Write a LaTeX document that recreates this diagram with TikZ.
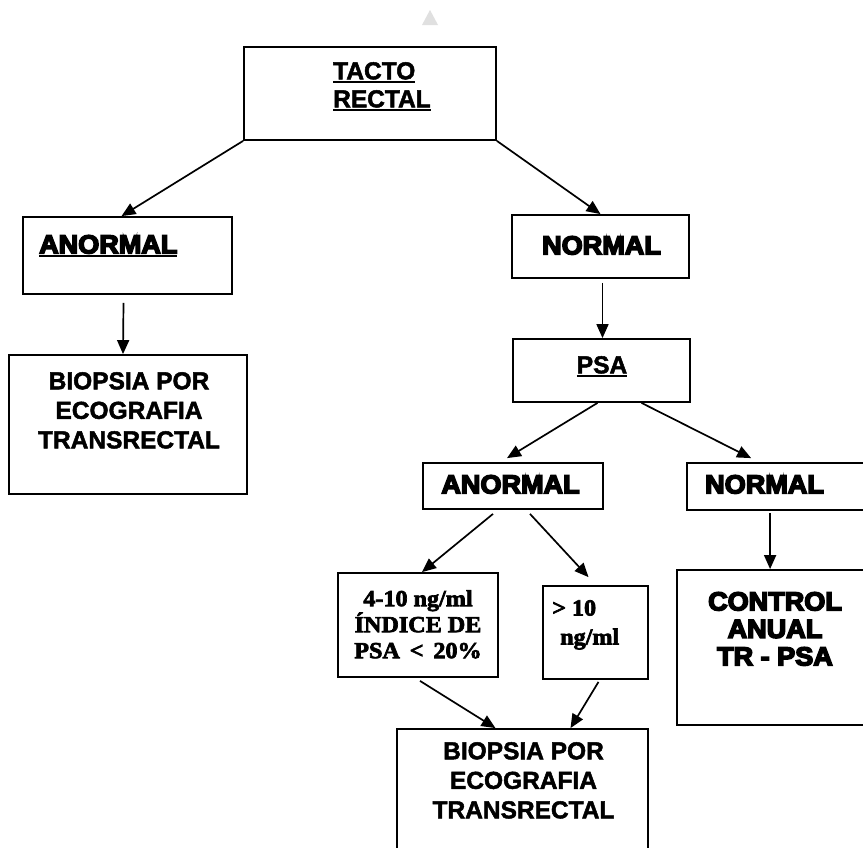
\documentclass[tikz,border=0pt]{standalone}
\usepackage{fontspec}
\setmainfont{Liberation Sans}
\newfontfamily\boldfont[FakeBold=2]{Liberation Sans Bold}
\newfontfamily\heavyfont[FakeBold=6,FakeStretch=1.04]{Liberation Sans Bold}
\newfontfamily\numfont[FakeBold=3,FakeStretch=1.05]{Liberation Serif Bold}
\newcommand{\ulbar}[1]{\setbox0\hbox{#1}\rlap{\rule[-3.5pt]{\wd0}{2pt}}\box0}
\usetikzlibrary{arrows.meta}

\begin{document}
\begin{tikzpicture}[x=1pt, y=-1pt,
  box/.style={rectangle, draw, line width=1.8pt, inner sep=0pt},
  conn/.style={->, line width=1.7pt},
  txt/.style={inner sep=0pt, align=center, font=\boldfont\fontsize{24.5}{29.5}\selectfont},
  hvy/.style={inner sep=0pt, align=center, font=\heavyfont\fontsize{26}{27.5}\selectfont},
  ser/.style={inner sep=0pt, align=center, font=\numfont\fontsize{23}{26}\selectfont},
  >={Triangle[length=14pt, width=12pt]}]
  \clip (0,0) rectangle (863,847);
  \fill[white] (0,0) rectangle (863,847);
  \fill[black!12] (422,25) -- (430,10) -- (438,25) -- cycle;

  % boxes
  \node[box, minimum width=252pt, minimum height=93pt] (tacto) at (370,93.5) {};
  \node[box, minimum width=209pt, minimum height=77pt] (anorm1) at (127.5,255.5) {};
  \node[box, minimum width=238pt, minimum height=139pt] (biop1) at (128,424.5) {};
  \node[box, minimum width=177pt, minimum height=63pt] (norm1) at (600.5,246.5) {};
  \node[box, minimum width=177pt, minimum height=63pt] (psa) at (601.5,370.5) {};
  \node[box, minimum width=180pt, minimum height=46pt] (anorm2) at (513,486) {};
  \node[box, minimum width=213pt, minimum height=47pt] (norm2) at (793.5,486.5) {};
  \node[box, minimum width=160pt, minimum height=104pt] (low) at (418,625) {};
  \node[box, minimum width=105pt, minimum height=93pt] (high) at (595.5,632.5) {};
  \node[box, minimum width=223pt, minimum height=155pt] (ctrl) at (788.5,647.5) {};
  \node[box, minimum width=251pt, minimum height=171pt] (biop2) at (522.5,814.5) {};

  % texts
  \node[txt, anchor=north west, align=left] (tactot) at (333,62) {\ulbar{TACTO}\\[-1.5pt]\ulbar{RECTAL}};
  \node[hvy, anchor=north west] (anorm1t) at (39,235) {\ulbar{ANORMAL}};
  \node[txt, anchor=north] (biop1t) at (129,372) {BIOPSIA POR\\ECOGRAFIA\\TRANSRECTAL};
  \node[hvy, anchor=north] (norm1t) at (601.5,236) {NORMAL};
  \node[txt, anchor=north] (psat) at (602,356) {\ulbar{PSA}};
  \node[hvy, anchor=north] (anorm2t) at (510.5,475) {ANORMAL};
  \node[hvy, anchor=north west] (norm2t) at (705,475) {NORMAL};
  \node[ser, anchor=north] (lowt) at (418,590) {4-10 ng/ml\\ÍNDICE DE\\PSA \,<\, 20\%};
  \node[ser, anchor=north west, align=left] (hight) at (552,600) {> 10\\[3pt]\hspace{8pt}ng/ml};
  \node[hvy, anchor=north] (ctrlt) at (775,592) {CONTROL\\ANUAL\\TR - PSA};
  \node[txt, anchor=north] (biop2t) at (523.5,742) {BIOPSIA POR\\ECOGRAFIA\\TRANSRECTAL};

  % connectors
  \draw[conn] (tacto.south west) -- ([xshift=-6pt]anorm1.north);
  \draw[conn] (tacto.south east) -- (norm1.north);
  \draw[conn] ([xshift=-4pt,yshift=-8pt]anorm1.south) -- ([xshift=-5pt]biop1.north);
  \draw[conn] ([xshift=2pt,yshift=-4pt]norm1.south) -- ([xshift=1pt]psa.north);
  \draw[conn] ([xshift=-4pt]psa.south) -- ([xshift=-6pt,yshift=4pt]anorm2.north);
  \draw[conn] ([xshift=40pt]psa.south) -- ([xshift=65pt,yshift=4pt]norm2.north west);
  \draw[conn] ([xshift=-20pt,yshift=-4pt]anorm2.south) -- ([xshift=4pt]low.north);
  \draw[conn] ([xshift=17pt,yshift=-4pt]anorm2.south) -- ([xshift=-7pt,yshift=8pt]high.north);
  \draw[conn] ([xshift=84pt,yshift=-2pt]norm2.south west) -- ([xshift=94pt]ctrl.north west);
  \draw[conn] ([xshift=2pt,yshift=-3pt]low.south) -- ([xshift=-27pt]biop2.north);
  \draw[conn] ([xshift=3pt,yshift=-2pt]high.south) -- ([xshift=48pt]biop2.north);
\end{tikzpicture}
\end{document}
